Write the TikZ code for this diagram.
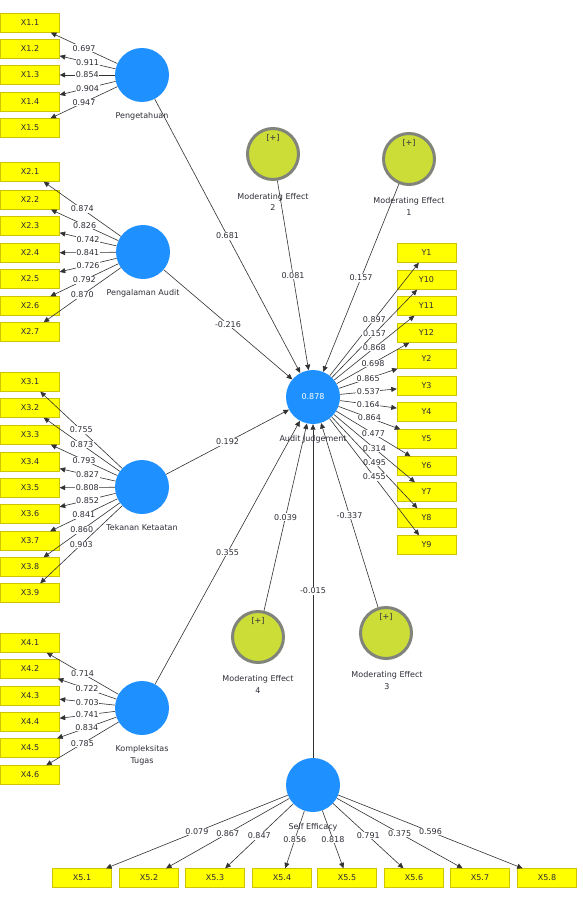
\documentclass[tikz,border=0pt]{standalone}
\usepackage{fontspec}
\setmainfont{DejaVu Sans}
\usetikzlibrary{arrows.meta}
\definecolor{lvblue}{RGB}{30,144,255}
\definecolor{modfill}{RGB}{205,221,55}
\definecolor{modedge}{RGB}{128,132,122}
\definecolor{boxfill}{RGB}{255,255,0}
\definecolor{boxedge}{RGB}{205,195,0}
\definecolor{txt}{RGB}{45,45,55}
\definecolor{ln}{RGB}{50,50,50}
\begin{document}
\begin{tikzpicture}[x=1pt,y=-1pt,font=\fontsize{8}{11.5}\selectfont,
 ind/.style={draw=boxedge,fill=boxfill,minimum width=59pt,minimum height=19pt,inner sep=0pt,text=txt},
 lv/.style={circle,fill=lvblue,minimum size=54pt,inner sep=0pt,text=white},
 modc/.style={circle,fill=modfill,draw=modedge,line width=3pt,minimum size=51pt,inner sep=0pt},
 captxt/.style={text=txt,align=center,inner sep=0pt},
 arr/.style={draw=ln,line width=0.6pt,-{Triangle[length=5.5pt,width=5pt]}},
 wt/.style={fill=white,text=txt,inner sep=0.6pt,midway}]
\path[fill=white,use as bounding box] (0,0) rectangle (582,915);

% indicator boxes
\foreach \i/\y in {1/23,2/49,3/75,4/102,5/128}{\node[ind] (x1\i) at (30,\y) {X1.\i};}
\foreach \i/\y in {1/172,2/200,3/226,4/253,5/279,6/306,7/332}{\node[ind] (x2\i) at (30,\y) {X2.\i};}
\foreach \i/\y in {1/382,2/408,3/435,4/462,5/488,6/514,7/541,8/567,9/593}{\node[ind] (x3\i) at (30,\y) {X3.\i};}
\foreach \i/\y in {1/643,2/669,3/696,4/722,5/748,6/775}{\node[ind] (x4\i) at (30,\y) {X4.\i};}
\foreach \i/\x in {1/82,2/149,3/215,4/282,5/347,6/414,7/480,8/547}{\node[ind] (x5\i) at (\x,878) {X5.\i};}
\foreach \n/\y in {1/253,10/280,11/306,12/333,2/359,3/386,4/412,5/439,6/466,7/492,8/518,9/545}{\node[ind] (y\n) at (426.5,\y) {Y\n};}

% latent variables
\node[lv] (pg) at (142,75) {};
\node[lv] (pa) at (143,252) {};
\node[lv] (tk) at (142,487) {};
\node[lv] (kt) at (142,708) {};
\node[captxt] (aj-l) at (313,439) {Audit Judgement};
\node[lv] (aj) at (313,397) {0.878};
\node[lv] (se) at (313,785) {};
\node[modc] (m2) at (273,154) {};
\node[modc] (m1) at (409,159) {};
\node[modc] (m4) at (258,637) {};
\node[modc] (m3) at (386,633) {};
\node[captxt] (m2p) at (273,138) {[+]};
\node[captxt] (m1p) at (409,143) {[+]};
\node[captxt] (m4p) at (258,621) {[+]};
\node[captxt] (m3p) at (386,617) {[+]};

% captions
\node[captxt] (pg-l) at (142,116) {Pengetahuan};
\node[captxt] (pa-l) at (143,293) {Pengalaman Audit};
\node[captxt] (tk-l) at (142,528) {Tekanan Ketaatan};
\node[captxt] (kt-l) at (142,755.5) {Kompleksitas\\Tugas};
\node[captxt] (se-l) at (313,827) {Self Efficacy};
\node[captxt] (m2-l) at (273,202) {Moderating Effect\\2};
\node[captxt] (m1-l) at (409,206.5) {Moderating Effect\\1};
\node[captxt] (m4-l) at (258,684.5) {Moderating Effect\\4};
\node[captxt] (m3-l) at (387,680.5) {Moderating Effect\\3};

% outer loadings
\foreach \i/\w in {1/0.697,2/0.911,3/0.854,4/0.904,5/0.947}{\draw[arr] (pg) -- node[wt]{\w} (x1\i);}
\foreach \i/\w in {1/0.874,2/0.826,3/0.742,4/0.841,5/0.726,6/0.792,7/0.870}{\draw[arr] (pa) -- node[wt]{\w} (x2\i);}
\foreach \i/\w in {1/0.755,2/0.873,3/0.793,4/0.827,5/0.808,6/0.852,7/0.841,8/0.860,9/0.903}{\draw[arr] (tk) -- node[wt]{\w} (x3\i);}
\foreach \i/\w in {1/0.714,2/0.722,3/0.703,4/0.741,5/0.834,6/0.785}{\draw[arr] (kt) -- node[wt]{\w} (x4\i);}
\foreach \i/\w in {1/0.079,2/0.867,3/0.847,4/0.856,5/0.818,6/0.791,7/0.375,8/0.596}{\draw[arr] (se) -- node[wt]{\w} (x5\i);}
\foreach \n/\w in {1/0.897,10/0.157,11/0.868,12/0.698,2/0.865,3/0.537,4/0.164,5/0.864,6/0.477,7/0.314,8/0.495,9/0.455}{\draw[arr] (aj) -- node[wt]{\w} (y\n);}

% inner paths
\draw[arr] (pg) -- node[wt]{0.681} (aj);
\draw[arr] (pa) -- node[wt]{-0.216} (aj);
\draw[arr] (tk) -- node[wt]{0.192} (aj);
\draw[arr] (kt) -- node[wt]{0.355} (aj);
\draw[arr] (m2) -- node[wt]{0.081} (aj);
\draw[arr] (m1) -- node[wt]{0.157} (aj);
\draw[arr] (m4) -- node[wt]{0.039} (aj);
\draw[arr] (m3) -- node[wt]{-0.337} (aj);
\draw[arr] (se) -- node[wt]{-0.015} (aj);
\end{tikzpicture}
\end{document}
